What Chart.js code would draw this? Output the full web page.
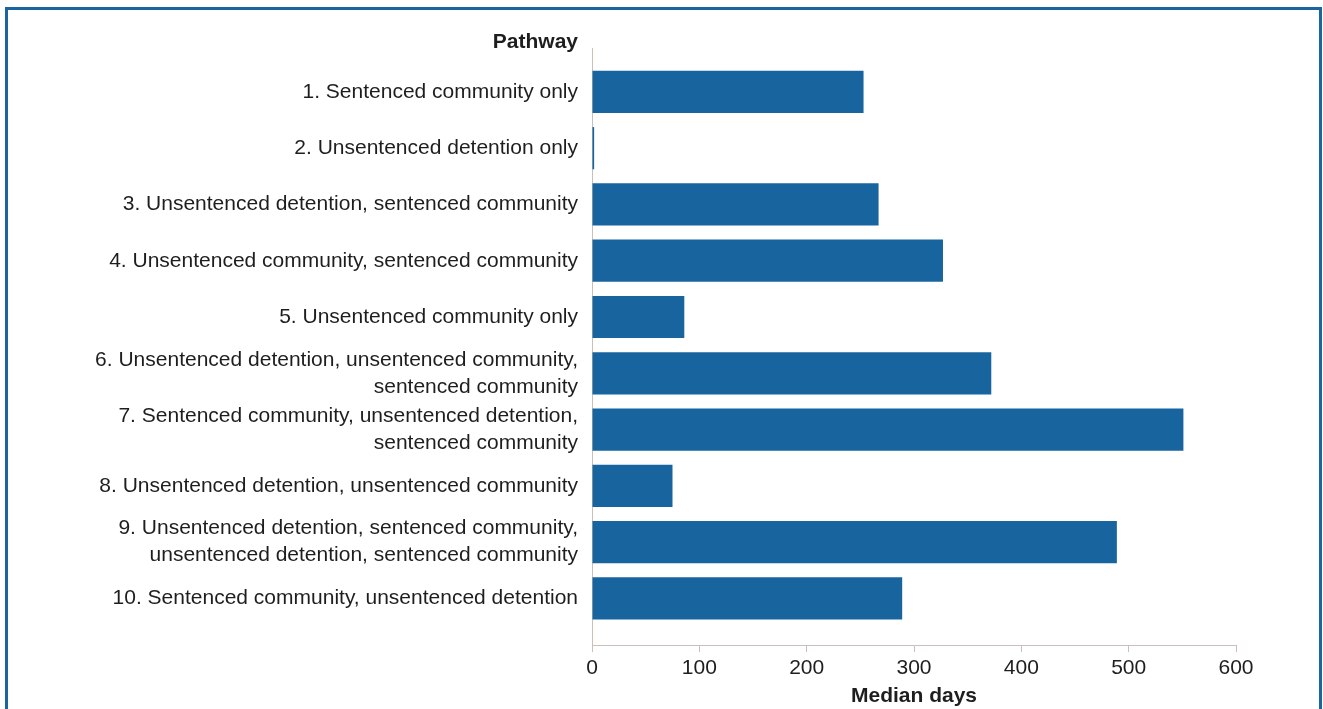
<!DOCTYPE html>
<html>
<head>
<meta charset="utf-8">
<script src="https://cdn.jsdelivr.net/npm/chart.js@4.4.1/dist/chart.umd.min.js"></script>
<style>
  html, body { margin: 0; padding: 0; background: #ffffff; overflow: hidden; }
  #wrap { position: relative; width: 1323px; height: 709px; }
  #frame { position: absolute; left: 5px; top: 7px; width: 1317px; height: 720px;
           border: 3px solid #1a64a0; box-sizing: border-box; pointer-events: none; }
  canvas { position: absolute; left: 0; top: 0; }
</style>
</head>
<body>
<div id="wrap">
  <canvas id="c" width="1323" height="709"></canvas>
  <div id="frame"></div>
</div>
<script>
const categories = [
  ["1. Sentenced community only"],
  ["2. Unsentenced detention only"],
  ["3. Unsentenced detention, sentenced community"],
  ["4. Unsentenced community, sentenced community"],
  ["5. Unsentenced community only"],
  ["6. Unsentenced detention, unsentenced community,", "sentenced community"],
  ["7. Sentenced community, unsentenced detention,", "sentenced community"],
  ["8. Unsentenced detention, unsentenced community"],
  ["9. Unsentenced detention, sentenced community,", "unsentenced detention, sentenced community"],
  ["10. Sentenced community, unsentenced detention"]
];
const medianDays = [253, 2, 267, 327, 86, 372, 551, 75, 489, 289];
const xTicks = [0, 100, 200, 300, 400, 500, 600];
const yAxisTitle = "Pathway";
const xAxisTitle = "Median days";

const FONT = "'Liberation Sans', Arial, sans-serif";
const FS = 21;
const TEXT = "#1e1e1e";
const AXIS = "#cbbfb7";
const BAR = "#17649e";

const pathwayLabel = {
  id: 'pathwayLabel',
  afterDraw(chart) {
    const ctx = chart.ctx;
    const a = chart.chartArea;
    ctx.save();
    ctx.font = "bold " + FS + "px " + FONT;
    ctx.fillStyle = TEXT;
    ctx.textAlign = 'right';
    ctx.textBaseline = 'middle';
    ctx.fillText(yAxisTitle, a.left - 14, 42);
    ctx.restore();
  }
};

new Chart(document.getElementById('c'), {
  type: 'bar',
  data: {
    datasets: [{
      data: medianDays.map((v, i) => ({ x: v, y: i })),
      backgroundColor: BAR,
      borderWidth: 0,
      barPercentage: 0.75,
      categoryPercentage: 1
    }]
  },
  options: {
    indexAxis: 'y',
    responsive: false,
    devicePixelRatio: 1,
    animation: false,
    layout: { padding: { top: 48, right: 87, bottom: 0, left: 0 } },
    plugins: { legend: { display: false }, tooltip: { enabled: false } },
    scales: {
      x: {
        type: 'linear',
        min: xTicks[0],
        max: xTicks[xTicks.length - 1],
        afterBuildTicks: (s) => { s.ticks = xTicks.map(v => ({ value: v })); },
        ticks: { font: { family: FONT, size: FS, lineHeight: 0.7 }, color: TEXT, padding: 8.5, maxRotation: 0 },
        grid: { drawOnChartArea: false, drawTicks: true, tickLength: 7, color: AXIS, lineWidth: 1 },
        border: { display: true, color: AXIS, width: 1 },
        title: { display: true, text: xAxisTitle, color: TEXT,
                 font: { family: FONT, size: FS, weight: 'bold' }, padding: { top: 0, bottom: 0 } }
      },
      y: {
        type: 'linear',
        reverse: true,
        offset: false,
        bounds: 'data',
        min: -0.78,
        max: 9.83,
        afterBuildTicks: (s) => { s.ticks = categories.map((c, i) => ({ value: i })); },
        afterFit: (s) => { s.width = 592; },
        ticks: {
          callback: (v) => categories[v],
          font: { family: FONT, size: FS, lineHeight: 1.29 },
          color: TEXT,
          padding: 14,
          autoSkip: false
        },
        grid: { drawOnChartArea: false, drawTicks: false, offset: false },
        border: { display: true, color: AXIS, width: 1 }
      }
    }
  },
  plugins: [pathwayLabel]
});
</script>
</body>
</html>
